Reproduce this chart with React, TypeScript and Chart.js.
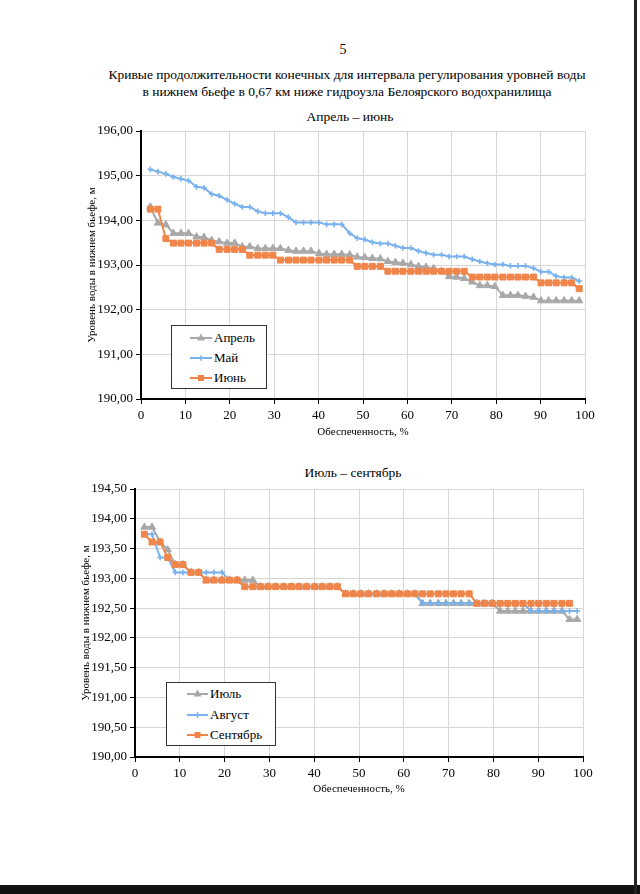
import React, { useEffect, useRef } from "react";
import { Chart, registerables } from "chart.js";
Chart.register(...registerables);

// ---------- data ----------
const PROBABILITY = [2.1, 3.8, 5.6, 7.3, 9.0, 10.7, 12.5, 14.2, 15.9, 17.6, 19.4, 21.1, 22.8, 24.5, 26.3, 28.0, 29.7, 31.4, 33.2, 34.9, 36.6, 38.3, 40.1, 41.8, 43.5, 45.2, 47.0, 48.7, 50.4, 52.1, 53.9, 55.6, 57.3, 59.0, 60.8, 62.5, 64.2, 65.9, 67.7, 69.4, 71.1, 72.8, 74.6, 76.3, 78.0, 79.7, 81.5, 83.2, 84.9, 86.6, 88.4, 90.1, 91.8, 93.5, 95.3, 97.0, 98.7];

const APRIL = [194.30, 193.94, 193.90, 193.71, 193.71, 193.71, 193.63, 193.62, 193.55, 193.52, 193.49, 193.49, 193.41, 193.41, 193.37, 193.37, 193.37, 193.37, 193.33, 193.31, 193.31, 193.31, 193.26, 193.24, 193.24, 193.24, 193.23, 193.18, 193.17, 193.15, 193.14, 193.08, 193.06, 193.04, 193.01, 192.97, 192.95, 192.92, 192.86, 192.74, 192.73, 192.70, 192.62, 192.54, 192.54, 192.52, 192.32, 192.32, 192.32, 192.30, 192.28, 192.20, 192.20, 192.20, 192.20, 192.20, 192.20];
const MAY = [195.14, 195.09, 195.04, 194.97, 194.93, 194.89, 194.75, 194.73, 194.59, 194.55, 194.46, 194.37, 194.30, 194.30, 194.20, 194.16, 194.16, 194.16, 194.07, 193.95, 193.95, 193.95, 193.95, 193.91, 193.91, 193.91, 193.71, 193.60, 193.57, 193.51, 193.48, 193.48, 193.43, 193.38, 193.38, 193.31, 193.27, 193.23, 193.23, 193.19, 193.19, 193.19, 193.13, 193.08, 193.04, 193.01, 193.01, 192.98, 192.98, 192.98, 192.93, 192.85, 192.85, 192.75, 192.72, 192.72, 192.64];
const JUNE = [194.25, 194.25, 193.59, 193.49, 193.49, 193.49, 193.49, 193.49, 193.49, 193.35, 193.35, 193.35, 193.35, 193.22, 193.22, 193.22, 193.22, 193.11, 193.11, 193.11, 193.11, 193.11, 193.11, 193.11, 193.11, 193.11, 193.11, 192.97, 192.97, 192.97, 192.97, 192.86, 192.86, 192.86, 192.86, 192.86, 192.86, 192.86, 192.86, 192.86, 192.86, 192.86, 192.73, 192.73, 192.73, 192.73, 192.73, 192.73, 192.73, 192.73, 192.73, 192.60, 192.60, 192.60, 192.60, 192.60, 192.47];

const JULY = [193.86, 193.86, 193.61, 193.48, 193.23, 193.23, 193.10, 193.10, 192.97, 192.97, 192.97, 192.97, 192.97, 192.97, 192.97, 192.86, 192.86, 192.86, 192.86, 192.86, 192.86, 192.86, 192.86, 192.86, 192.86, 192.86, 192.74, 192.74, 192.74, 192.74, 192.74, 192.74, 192.74, 192.74, 192.74, 192.74, 192.58, 192.58, 192.58, 192.58, 192.58, 192.58, 192.58, 192.58, 192.58, 192.58, 192.45, 192.45, 192.45, 192.45, 192.45, 192.45, 192.45, 192.45, 192.45, 192.31, 192.31];
const AUGUST = [193.74, 193.74, 193.35, 193.35, 193.10, 193.10, 193.10, 193.10, 193.10, 193.10, 193.10, 192.97, 192.97, 192.86, 192.86, 192.86, 192.86, 192.86, 192.86, 192.86, 192.86, 192.86, 192.86, 192.86, 192.86, 192.86, 192.74, 192.74, 192.74, 192.74, 192.74, 192.74, 192.74, 192.74, 192.74, 192.74, 192.58, 192.58, 192.58, 192.58, 192.58, 192.58, 192.58, 192.58, 192.58, 192.58, 192.58, 192.58, 192.58, 192.58, 192.45, 192.45, 192.45, 192.45, 192.45, 192.45, 192.45];
const SEPTEMBER = [193.74, 193.61, 193.61, 193.35, 193.23, 193.23, 193.10, 193.10, 192.97, 192.97, 192.97, 192.97, 192.97, 192.86, 192.86, 192.86, 192.86, 192.86, 192.86, 192.86, 192.86, 192.86, 192.86, 192.86, 192.86, 192.86, 192.74, 192.74, 192.74, 192.74, 192.74, 192.74, 192.74, 192.74, 192.74, 192.74, 192.74, 192.74, 192.74, 192.74, 192.74, 192.74, 192.74, 192.58, 192.58, 192.58, 192.58, 192.58, 192.58, 192.58, 192.58, 192.58, 192.58, 192.58, 192.58, 192.58];

const X_TICKS = [0, 10, 20, 30, 40, 50, 60, 70, 80, 90, 100];
const X_LABELS = ["0", "10", "20", "30", "40", "50", "60", "70", "80", "90", "100"];
const Y1_TICKS = [190, 191, 192, 193, 194, 195, 196];
const Y1_LABELS = ["190,00", "191,00", "192,00", "193,00", "194,00", "195,00", "196,00"];
const Y2_TICKS = [190, 190.5, 191, 191.5, 192, 192.5, 193, 193.5, 194, 194.5];
const Y2_LABELS = ["190,00", "190,50", "191,00", "191,50", "192,00", "192,50", "193,00", "193,50", "194,00", "194,50"];

const PAGE_NUMBER = "5";
const TITLE_1 = "Кривые продолжительности конечных для интервала регулирования уровней воды";
const TITLE_2 = "в нижнем бьефе в 0,67 км ниже гидроузла Белоярского водохранилища";
const CHART1_TITLE = "Апрель – июнь";
const CHART2_TITLE = "Июль – сентябрь";
const X_TITLE = "Обеспеченность, %";
const Y_TITLE = "Уровень воды в нижнем бьефе, м";

// ---------- styles ----------
const FONT = "'Liberation Serif', 'Times New Roman', serif";
const GRAY = "#a8a8a8";
const BLUE = "#79b2ee";
const ORANGE = "#f0854a";
const GRID = "#d6d6d6";

type Series = { label: string; values: number[]; color: string; style: string; radius: number; order: number };

const SERIES_1: Series[] = [
  { label: "Апрель", values: APRIL, color: GRAY, style: "triangle", radius: 4.2, order: 3 },
  { label: "Май", values: MAY, color: BLUE, style: "cross", radius: 2.8, order: 2 },
  { label: "Июнь", values: JUNE, color: ORANGE, style: "rect", radius: 4.2, order: 1 },
];
const SERIES_2: Series[] = [
  { label: "Июль", values: JULY, color: GRAY, style: "triangle", radius: 4.2, order: 3 },
  { label: "Август", values: AUGUST, color: BLUE, style: "cross", radius: 2.8, order: 2 },
  { label: "Сентябрь", values: SEPTEMBER, color: ORANGE, style: "rect", radius: 4.2, order: 1 },
];

type ChartProps = {
  left: number; top: number; width: number; height: number;
  series: Series[]; yMin: number; yMax: number; yTicks: number[]; yLabels: string[];
  padTop: number; padRight: number; yAxisWidth: number; xAxisHeight: number;
  yTitlePad: number; xTitlePad: number;
};

function LineChart(p: ChartProps) {
  const ref = useRef<HTMLCanvasElement>(null);
  useEffect(() => {
    const chart = new Chart(ref.current as HTMLCanvasElement, {
      type: "line",
      data: {
        datasets: p.series.map((s) => ({
          label: s.label,
          data: PROBABILITY.map((x, i) => ({ x, y: s.values[i] })),
          borderColor: s.color,
          backgroundColor: s.color,
          borderWidth: 2,
          pointStyle: s.style as any,
          pointRadius: s.radius,
          pointBorderWidth: s.style === "cross" ? 1.6 : 1,
          pointBackgroundColor: s.color,
          pointBorderColor: s.color,
          tension: 0,
          order: s.order,
        })),
      },
      options: {
        animation: false,
        responsive: false,
        maintainAspectRatio: false,
        events: [],
        layout: { padding: { top: p.padTop, right: p.padRight, left: 0, bottom: 0 } },
        plugins: { legend: { display: false }, tooltip: { enabled: false } },
        scales: {
          x: {
            type: "linear",
            min: 0,
            max: 100,
            afterBuildTicks: (a: any) => { a.ticks = X_TICKS.map((v) => ({ value: v })); },
            afterFit: (s: any) => { s.height = p.xAxisHeight; },
            ticks: {
              autoSkip: false,
              maxRotation: 0,
              padding: 4,
              color: "#000",
              font: { family: FONT, size: 13 },
              callback: (v: any) => X_LABELS[X_TICKS.indexOf(Number(v))],
            },
            grid: { color: GRID, lineWidth: 1, tickLength: 5, tickColor: "#000" },
            border: { color: "#000", width: 2 },
            title: {
              display: true,
              text: X_TITLE,
              color: "#000",
              font: { family: FONT, size: 11 },
              padding: { top: 0, bottom: p.xTitlePad },
            },
          },
          y: {
            type: "linear",
            min: p.yMin,
            max: p.yMax,
            afterBuildTicks: (a: any) => { a.ticks = p.yTicks.map((v) => ({ value: v })); },
            afterFit: (s: any) => { s.width = p.yAxisWidth; },
            ticks: {
              autoSkip: false,
              padding: 3,
              color: "#000",
              font: { family: FONT, size: 13 },
              callback: (v: any) => p.yLabels[p.yTicks.indexOf(Number(v))],
            },
            grid: { color: GRID, lineWidth: 1, tickLength: 5, tickColor: "#000" },
            border: { color: "#000", width: 2 },
            title: {
              display: true,
              text: Y_TITLE,
              color: "#000",
              font: { family: FONT, size: 11 },
              padding: { top: p.yTitlePad, bottom: 0 },
            },
          },
        },
      },
    });
    return () => chart.destroy();
  }, []);
  return (
    <canvas
      ref={ref}
      width={p.width}
      height={p.height}
      style={{ position: "absolute", left: p.left, top: p.top, width: p.width, height: p.height }}
    />
  );
}

function Marker({ style, color, cx, cy }: { style: string; color: string; cx: number; cy: number }) {
  if (style === "triangle") {
    return <polygon points={`${cx},${cy - 4.5} ${cx - 4},${cy + 2.5} ${cx + 4},${cy + 2.5}`} fill={color} />;
  }
  if (style === "rect") {
    return <rect x={cx - 3} y={cy - 3} width={6} height={6} fill={color} />;
  }
  return (
    <g stroke={color} strokeWidth={1.6}>
      <line x1={cx - 2.8} y1={cy} x2={cx + 2.8} y2={cy} />
      <line x1={cx} y1={cy - 2.8} x2={cx} y2={cy + 2.8} />
    </g>
  );
}

function Legend({ left, top, width, height, series, rows, lineX1, lineX2, textX }: {
  left: number; top: number; width: number; height: number; series: Series[];
  rows: number[]; lineX1: number; lineX2: number; textX: number;
}) {
  return (
    <div style={{ position: "absolute", left, top, width, height, border: "1px solid #333", background: "#fff", boxSizing: "border-box" }}>
      <svg width={width} height={height} style={{ position: "absolute", left: -1, top: -1 }}>
        {series.map((s, i) => (
          <g key={s.label}>
            <line x1={lineX1} y1={rows[i]} x2={lineX2} y2={rows[i]} stroke={s.color} strokeWidth={2} />
            <Marker style={s.style} color={s.color} cx={(lineX1 + lineX2) / 2} cy={rows[i]} />
          </g>
        ))}
      </svg>
      {series.map((s, i) => (
        <div key={s.label} style={{ position: "absolute", left: textX - 1, top: rows[i] - 9 - 1, height: 18, lineHeight: "18px", fontFamily: FONT, fontSize: 13, color: "#000", whiteSpace: "nowrap" }}>
          {s.label}
        </div>
      ))}
    </div>
  );
}

function TextLine({ text, cx, cy, size }: { text: string; cx: number; cy: number; size: number }) {
  return (
    <div style={{ position: "absolute", left: cx - 300, top: cy - 10, width: 600, height: 20, lineHeight: "20px", textAlign: "center", fontFamily: FONT, fontSize: size, color: "#000", whiteSpace: "nowrap" }}>
      {text}
    </div>
  );
}

export default function App() {
  return (
    <div style={{ position: "absolute", left: 0, top: 0, width: 640, height: 894, background: "#fff", overflow: "hidden" }}>
      <TextLine text={PAGE_NUMBER} cx={343} cy={50} size={14} />
      <TextLine text={TITLE_1} cx={347} cy={75} size={13.5} />
      <TextLine text={TITLE_2} cx={347} cy={92} size={13.5} />
      <TextLine text={CHART1_TITLE} cx={350} cy={117} size={13.5} />
      <TextLine text={CHART2_TITLE} cx={353} cy={473} size={13.5} />

      <LineChart left={80} top={120} width={520} height={330} series={SERIES_1}
        yMin={190} yMax={196} yTicks={Y1_TICKS} yLabels={Y1_LABELS}
        padTop={11} padRight={15} yAxisWidth={61} xAxisHeight={51} yTitlePad={5.5} xTitlePad={11} />
      <Legend left={171} top={325} width={96} height={64} series={SERIES_1}
        rows={[13, 33, 53]} lineX1={19} lineX2={41} textX={43} />

      <LineChart left={74} top={478} width={526} height={330} series={SERIES_2}
        yMin={190} yMax={194.5} yTicks={Y2_TICKS} yLabels={Y2_LABELS}
        padTop={11} padRight={17} yAxisWidth={61} xAxisHeight={51} yTitlePad={6} xTitlePad={12.4} />
      <Legend left={166} top={682} width={110} height={64} series={SERIES_2}
        rows={[12, 33, 53]} lineX1={21} lineX2={42} textX={44} />

      <div style={{ position: "absolute", left: 0, top: 885, width: 640, height: 9, background: "#111" }} />
      <div style={{ position: "absolute", left: 634, top: 0, width: 3, height: 894, background: "#222" }} />
    </div>
  );
}
